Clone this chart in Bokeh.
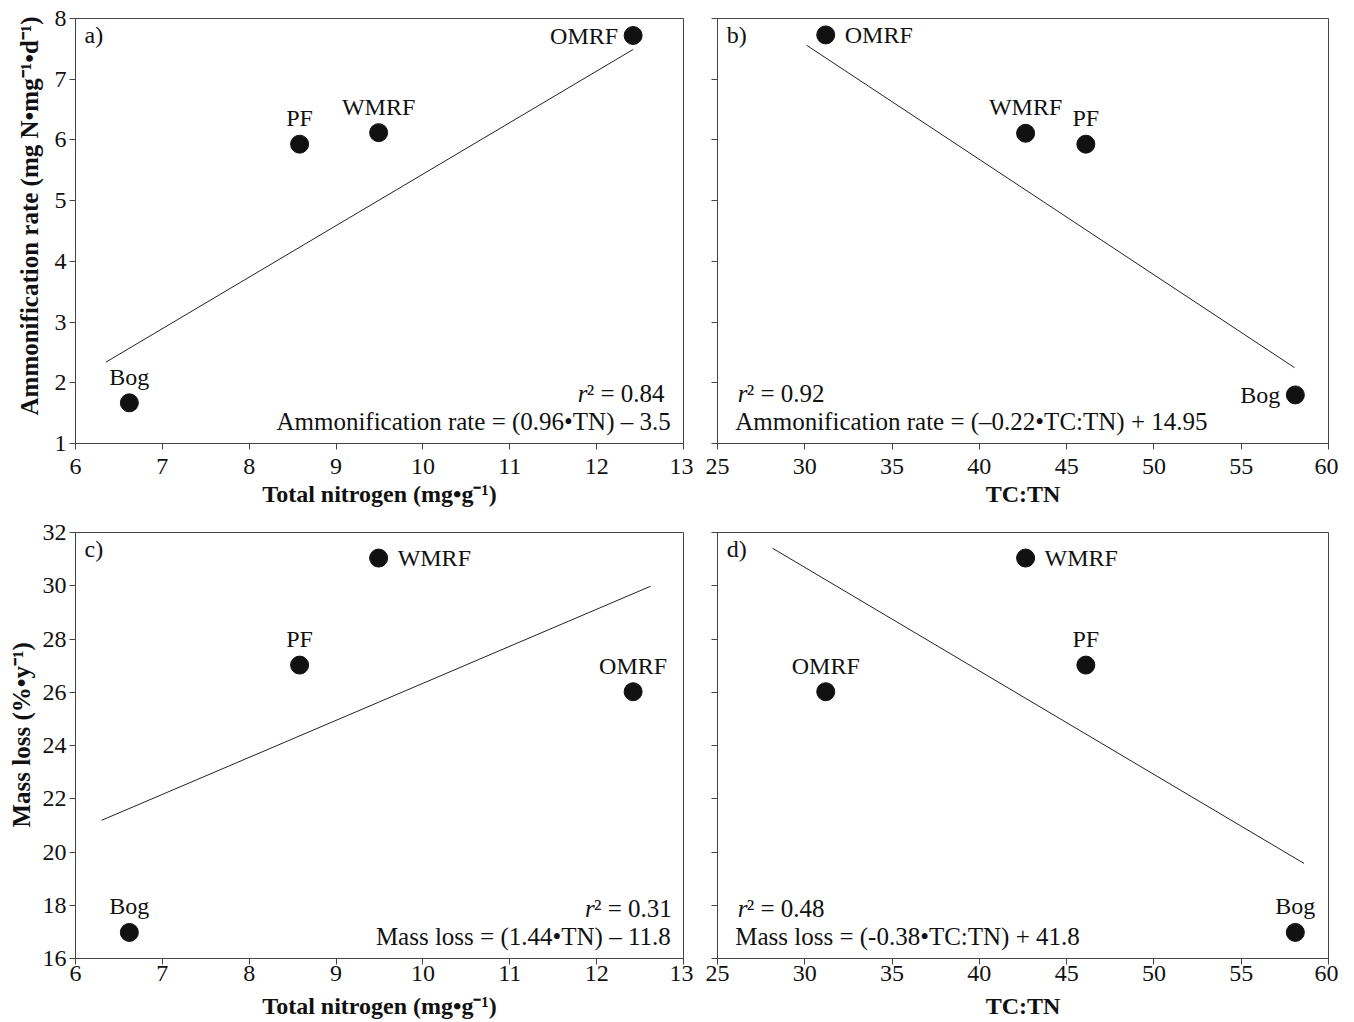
from bokeh.plotting import figure
from bokeh.layouts import column, row
from bokeh.models import FixedTicker, ColumnDataSource, Range1d, Title
from bokeh.core.properties import value
from bokeh.embed import file_html
from bokeh.resources import INLINE

FONT = "Liberation Serif"

# ---------------- data ----------------
sites = ["Bog", "PF", "WMRF", "OMRF"]
total_nitrogen = [6.62, 8.58, 9.49, 12.42]
tc_tn = [58.1, 46.1, 42.65, 31.2]
ammonification_a = [1.67, 5.93, 6.12, 7.72]
ammonification_b = [1.80, 5.93, 6.11, 7.73]
mass_loss = [16.98, 27.02, 31.04, 26.02]

fit_a_x = [6.35, 12.42]
fit_a_y = [2.34, 7.49]
fit_b_x = [30.1, 58.05]
fit_b_y = [7.56, 2.25]
fit_c_x = [6.30, 12.62]
fit_c_y = [21.19, 29.98]
fit_d_x = [28.15, 58.6]
fit_d_y = [31.41, 19.57]

tn_ticks = [6, 7, 8, 9, 10, 11, 12, 13]
tctn_ticks = [25, 30, 35, 40, 45, 50, 55, 60]
ammon_ticks = [1, 2, 3, 4, 5, 6, 7, 8]
mass_ticks = [16, 18, 20, 22, 24, 26, 28, 30, 32]

x_label_tn = "Total nitrogen (mg•g⁻¹)"
x_label_tctn = "TC:TN"
y_label_ammon = "Ammonification rate (mg N•mg⁻¹•d⁻¹)"
y_label_mass = "Mass loss (%•y⁻¹)"

r2_values = ["² =  0.84", "² =  0.92", "² = 0.31", "² = 0.48"]
equations = [
    "Ammonification rate = (0.96•TN) – 3.5",
    "Ammonification rate = (–0.22•TC:TN) + 14.95",
    "Mass loss = (1.44•TN) – 11.8",
    "Mass loss = (-0.38•TC:TN) + 41.8",
]

AX = "#444444"
TXT = "#111111"
FS = "24px"
FS_NOTE = "25px"


def panel(xs, ys, xr, yr, xticks, yticks, xlabel, ylabel, show_ylab,
          letter, fx, fy, placement, r2, eq, eq_right,
          bl, br, bt, bb, fw, fh, xlab_standoff, xtitle_standoff,
          ylab_offset, ylab_standoff):
    p = figure(x_range=Range1d(*xr), y_range=Range1d(*yr),
               frame_width=fw, frame_height=fh,
               min_border_left=bl, min_border_right=br,
               min_border_top=bt, min_border_bottom=bb,
               output_backend="svg", toolbar_location=None)
    p.xgrid.visible = False
    p.ygrid.visible = False
    p.outline_line_color = AX
    p.outline_line_width = 1
    for ax, ticks in ((p.xaxis[0], xticks), (p.yaxis[0], yticks)):
        ax.ticker = FixedTicker(ticks=ticks)
        ax.axis_line_color = AX
        ax.major_tick_line_color = AX
        ax.minor_tick_line_color = None
        ax.major_tick_out = 6
        ax.major_tick_in = 0
        ax.major_label_text_font = FONT
        ax.major_label_text_font_size = FS
        ax.major_label_text_color = TXT
        ax.axis_label_text_font = FONT
        ax.axis_label_text_font_style = "bold"
        ax.axis_label_text_font_size = FS
        ax.axis_label_text_color = TXT
    p.xaxis.axis_label = xlabel
    p.xaxis.major_label_standoff = xlab_standoff
    p.xaxis.axis_label_standoff = xtitle_standoff
    if show_ylab:
        p.yaxis.major_label_standoff = 3
        p.add_layout(Title(text=ylabel, align="left", offset=ylab_offset,
                           text_font=FONT, text_font_style="bold",
                           text_font_size="25px", text_color=TXT,
                           standoff=ylab_standoff), "left")
    else:
        p.yaxis.major_label_overrides = {t: "" for t in yticks}
        p.yaxis.major_label_text_font_size = "0px"

    p.line(fx, fy, line_color="#222222", line_width=1)
    p.scatter(xs, ys, size=18, color=TXT)

    offs = {"above": (0, -26, "center"), "left": (-15, 0, "right"),
            "right": (19, 0, "left")}
    for pos in ("above", "left", "right"):
        idx = [i for i, q in enumerate(placement) if q == pos]
        if not idx:
            continue
        src = ColumnDataSource(dict(x=[xs[i] for i in idx], y=[ys[i] for i in idx],
                                    t=[sites[i] for i in idx]))
        dx, dy, al = offs[pos]
        p.text("x", "y", text="t", source=src, x_offset=dx, y_offset=dy,
               text_align=al, text_baseline="middle",
               text_font=value(FONT), text_font_size=FS, text_color=TXT)

    x0, x1 = xr
    y0, y1 = yr
    W, H = x1 - x0, y1 - y0
    # panel letter
    p.text([x0 + 0.015 * W], [y0 + 0.962 * H], text=[letter], text_align="left",
           text_baseline="middle", text_font=value(FONT), text_font_size=FS,
           text_color=TXT)
    # r^2 and equation
    if eq_right:
        ex = x0 + 0.979 * W
        ea = "right"
    else:
        ex = x0 + 0.029 * W
        ea = "left"
    rx = x0 + (0.826 if eq_right else 0.033) * W
    if eq_right and "0.31" in r2:
        rx = x0 + 0.838 * W
    p.text([rx], [y0 + 0.117 * H], text=["r"], text_align="left",
           text_baseline="middle", text_font=value(FONT), text_font_style="italic",
           text_font_size=FS_NOTE, text_color=TXT)
    p.text([rx], [y0 + 0.117 * H], text=[r2], text_align="left", x_offset=9,
           text_baseline="middle", text_font=value(FONT),
           text_font_size=FS_NOTE, text_color=TXT)
    p.text([ex], [y0 + 0.052 * H], text=[eq], text_align=ea,
           text_baseline="middle", text_font=value(FONT),
           text_font_size=FS_NOTE, text_color=TXT)
    return p


pa = panel(total_nitrogen, ammonification_a, (6, 13), (1, 8), tn_ticks, ammon_ticks,
           x_label_tn, y_label_ammon, True, "a)", fit_a_x, fit_a_y,
           ["above", "above", "above", "left"], r2_values[0], equations[0], True,
           75, 10, 18, 76, 608, 425, 9, 4, 28, 18)
pb = panel(tc_tn, ammonification_b, (25, 60), (1, 8), tctn_ticks, ammon_ticks,
           x_label_tctn, "", False, "b)", fit_b_x, fit_b_y,
           ["left", "above", "above", "right"], r2_values[1], equations[1], False,
           24, 10, 18, 76, 611, 425, 9, 4, 0, 0)
pc = panel(total_nitrogen, mass_loss, (6, 13), (16, 32), tn_ticks, mass_ticks,
           x_label_tn, y_label_mass, True, "c)", fit_c_x, fit_c_y,
           ["above", "above", "right", "above"], r2_values[2], equations[2], True,
           75, 10, 13, 60, 608, 426, 1, 9, 131, 9)
pd_ = panel(tc_tn, mass_loss, (25, 60), (16, 32), tctn_ticks, mass_ticks,
            x_label_tctn, "", False, "d)", fit_d_x, fit_d_y,
            ["above", "above", "right", "above"], r2_values[3], equations[3], False,
            24, 10, 13, 60, 611, 426, 1, 9, 0, 0)

layout = column(row(pa, pb), row(pc, pd_))
open("out.html", "w").write(file_html(layout, INLINE))
